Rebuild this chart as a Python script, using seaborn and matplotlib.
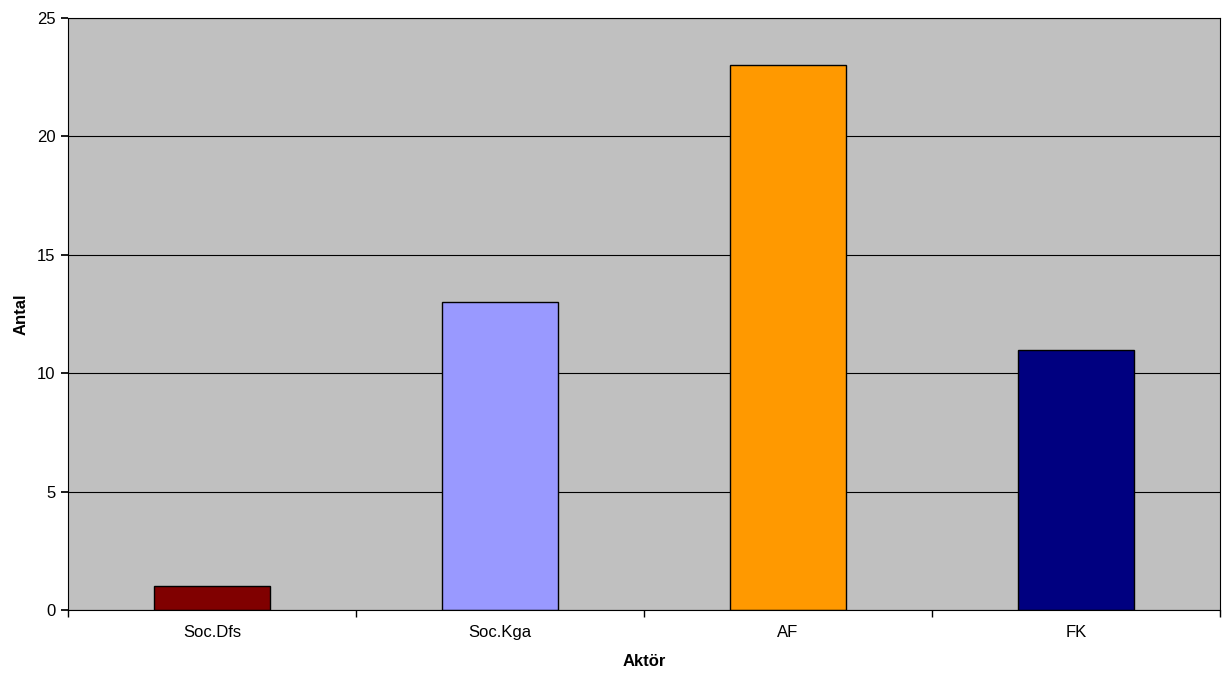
import matplotlib
matplotlib.use("Agg")
import matplotlib.pyplot as plt
import seaborn as sns
import pandas as pd
from matplotlib.ticker import FixedLocator

categories = ["Soc.Dfs", "Soc.Kga", "AF", "FK"]
values = [1, 13, 23, 11]
colors = ["#800000", "#9999FF", "#FF9900", "#000080"]
y_ticks = [0, 5, 10, 15, 20, 25]

sns.set_theme(style="white")
plt.rcParams['font.family'] = ['Liberation Sans', 'DejaVu Sans']

df = pd.DataFrame({"Aktör": categories, "Antal": values})

fig = plt.figure(figsize=(12.28, 6.75), dpi=100)
ax = fig.add_axes([68/1228, 1-610/675, 1152/1228, 592/675])
ax.set_facecolor("#C0C0C0")
ax.set_axisbelow(True)
ax.yaxis.grid(True, color="black", linewidth=0.8)

sns.barplot(data=df, x="Aktör", y="Antal", hue="Aktör", palette=colors,
            width=0.4, edgecolor="black", linewidth=1.0, legend=False, ax=ax, saturation=1)

ax.set_xlim(-0.5, len(categories) - 0.5)
ax.set_ylim(0, 25)
ax.set_yticks(y_ticks)
ax.set_yticklabels([str(v) for v in y_ticks], fontsize=12, color="black")
ax.set_xticks(range(len(categories)))
ax.set_xticklabels(categories, fontsize=12, color="black")
ax.tick_params(axis="x", which="major", length=0, pad=11)
ax.xaxis.set_minor_locator(FixedLocator([i + 0.5 for i in range(-1, len(categories))]))
ax.tick_params(axis="x", which="minor", length=5, direction="out", color="black", bottom=True)
ax.tick_params(axis="y", length=5, direction="out", color="black", left=True, pad=4)

for s in ax.spines.values():
    s.set_visible(True)
    s.set_color("black")
    s.set_linewidth(0.8)

ax.set_xlabel("Aktör", fontsize=12, fontweight="bold", labelpad=10, color="black")
ax.set_ylabel("Antal", fontsize=12, fontweight="bold", labelpad=6, color="black")

fig.savefig("out.png", dpi=100)
